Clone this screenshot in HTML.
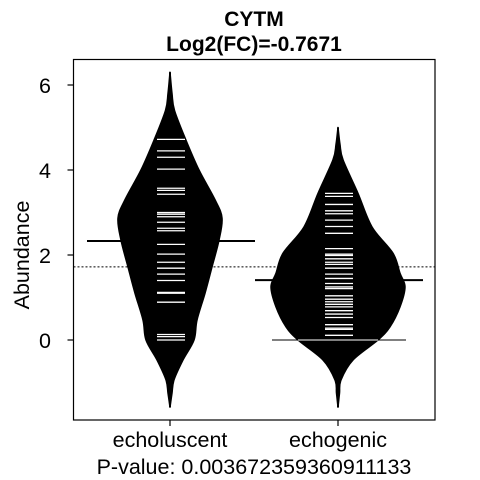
<!DOCTYPE html>
<html><head><meta charset="utf-8"><style>
html,body{margin:0;padding:0;background:#fff;}
svg{display:block;font-family:"Liberation Sans",Arial,sans-serif;}
</style></head><body>
<svg id="chart" width="480" height="480" viewBox="0 0 480 480">
<text x="254" y="26" text-anchor="middle" font-size="21" font-weight="bold">CYTM</text>
<text x="254" y="51" text-anchor="middle" font-size="21" font-weight="bold">Log2(FC)=-0.7671</text>
<text transform="translate(29,255) rotate(-90)" text-anchor="middle" font-size="21.5">Abundance</text>
<text x="254" y="474" text-anchor="middle" font-size="21.5">P-value: 0.003672359360911133</text>
<g id="plot"></g>
</svg>
<script>
const categories = ["echoluscent", "echogenic"];
const yTicks = [0, 2, 4, 6];
// density profiles: [value, relative density]
const densityA = [[6.3,0],[5.8,2],[5.4,4.5],[4.7,16],[4.0,29],[3.3,45],[2.87,52],[2.35,49],[1.72,42],[1.1,35],[0.47,27],[0,24],[-0.47,13],[-0.94,4],[-1.25,2],[-1.58,0]];
const densityB = [[5.0,0],[4.6,2],[4.24,5],[3.45,20],[2.66,34],[2.04,55],[1.57,62],[1.25,67],[0.78,62],[0.31,52],[0,40],[-0.47,15],[-0.94,3],[-1.25,1.5],[-1.58,0]];
const obsA = [4.72,4.45,4.30,4.02,3.57,3.52,3.43,3.00,2.96,2.90,2.77,2.63,2.57,2.25,2.02,1.83,1.69,1.55,1.40,1.12,1.10,0.89,0.13,0.08,0.0];
const obsB = [3.45,3.38,3.19,3.04,2.97,2.82,2.67,2.51,2.15,2.02,1.99,1.91,1.83,1.78,1.69,1.55,1.45,1.43,1.33,1.25,1.21,1.04,0.96,0.90,0.84,0.78,0.69,0.61,0.53,0.36,0.28,0.25,0.11];
const means = [2.33, 1.41];
const overallMean = 1.72;

const NS = "http://www.w3.org/2000/svg";
const g = document.getElementById("plot");
const L = 73.5, R = 435, T = 59.5, B = 420;
function y(v){ return 340 - 42.5 * v; }
function x(i){ return 170 + 168 * i; }
function el(tag, attrs, parent){ const e = document.createElementNS(NS, tag); for (const k in attrs) e.setAttribute(k, attrs[k]); (parent||g).appendChild(e); return e; }
function smoothPath(pts){
  let d = "M" + pts[0][0] + "," + pts[0][1];
  for (let i = 0; i < pts.length - 1; i++) {
    const p0 = pts[Math.max(0,i-1)], p1 = pts[i], p2 = pts[i+1], p3 = pts[Math.min(pts.length-1,i+2)];
    const c1x = p1[0] + (p2[0]-p0[0])/6, c1y = p1[1] + (p2[1]-p0[1])/6;
    const c2x = p2[0] - (p3[0]-p1[0])/6, c2y = p2[1] - (p3[1]-p1[1])/6;
    d += " C" + c1x + "," + c1y + " " + c2x + "," + c2y + " " + p2[0] + "," + p2[1];
  }
  return d;
}

const frame = el("rect", {x:L, y:T, width:R-L, height:B-T, fill:"none", stroke:"#000", "stroke-width":1.2});



yTicks.forEach(t => {
  const tk = el("line", {x1:L-6, x2:L, y1:y(t), y2:y(t), stroke:"#000", "stroke-width":1.2});
  
  
  const lb = el("text", {x:45, y:y(t)+8, "text-anchor":"middle", "font-size":21.5});
  lb.textContent = t;
  
  
});

categories.forEach((c, i) => {
  const tk = el("line", {x1:x(i), x2:x(i), y1:B, y2:B+6, stroke:"#000", "stroke-width":1.2});
  
  
  const lb = el("text", {x:x(i), y:447, "text-anchor":"middle", "font-size":21.5});
  lb.textContent = c;
  
  
});

const profiles = [densityA, densityB];
const obs = [obsA, obsB];
profiles.forEach((prof, i) => {
  const cx = x(i);
  const right = prof.map(p => [cx + p[1], y(p[0])]);
  const left = prof.slice().reverse().map(p => [cx - p[1], y(p[0])]);
  const d = smoothPath(right) + " L" + smoothPath(left).slice(1) + "Z";
  const bean = el("path", {d:d, fill:"#000", stroke:"#000", "stroke-width":1.5, "stroke-linejoin":"round"});
  
  
  const spine = el("line", {x1:cx, x2:cx, y1:y(prof[0][0]), y2:y(prof[prof.length-1][0]), stroke:"#000", "stroke-width":2});
  
  
  obs[i].forEach(v => {
    const ln = el("line", {x1:cx-13, x2:cx+15, y1:y(v), y2:y(v), stroke:"#fff", "stroke-width":1.3});
    
    
  });
  const m = el("line", {x1:cx-83, x2:cx+85, y1:y(means[i]), y2:y(means[i]), stroke:"#000", "stroke-width":2});
  
  
});

const zl = el("line", {x1:272, x2:406, y1:y(0), y2:y(0), stroke:"#000", "stroke-width":1});


const zw = el("line", {x1:x(1)-40, x2:x(1)+40, y1:y(0), y2:y(0), stroke:"#fff", "stroke-width":1});



const om = el("line", {x1:L, x2:R, y1:y(overallMean), y2:y(overallMean), stroke:"#000", "stroke-width":1, "stroke-dasharray":"2,2"});


</script>
</body></html>
